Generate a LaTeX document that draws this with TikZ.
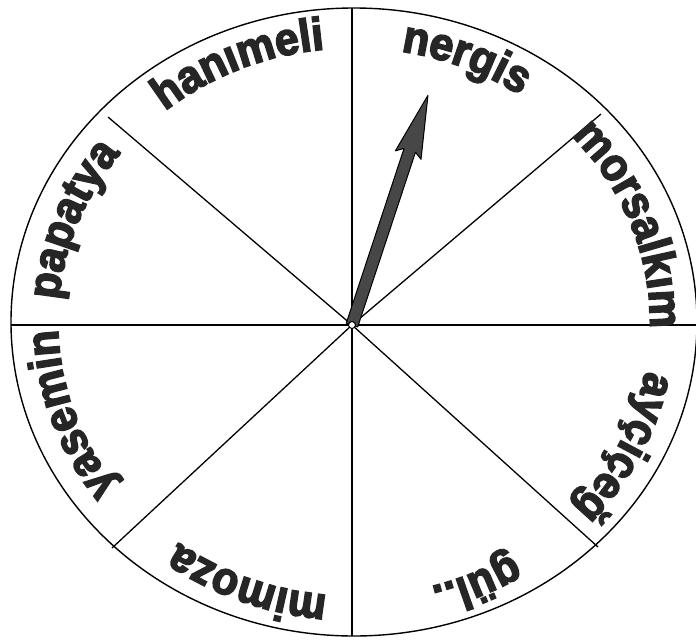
\documentclass[tikz,border=0pt]{standalone}
\usepackage{fontspec}
\newfontfamily\lbl{Liberation Sans Bold}[FakeBold=3.5, FakeStretch=0.93]
\usetikzlibrary{decorations.text}
\newcommand\lblfont{\lbl\fontsize{46}{50}\selectfont}
\tikzset{
  rim/.style={line width=1.4pt},
  spoke/.style={line width=1.3pt},
  lbltext/.style={decorate, decoration={text along path, text align=center, text color=black!85, text={|\lblfont|#1}}},
  pointer/.style={fill=black!72, draw=black, line width=1pt, line join=round}
}
\begin{document}
\begin{tikzpicture}[x=1pt,y=1pt]
\useasboundingbox (-352,-316) rectangle (344,325);
\coordinate (O) at (0,0);
\coordinate (E) at (2,3);
% rim
\draw[rim] (E) ellipse[x radius=343pt, y radius=314pt];
% spokes
\coordinate (W) at (-341,0);
\coordinate (R) at (345,0);
\coordinate (N) at (0,317);
\coordinate (S) at (0,-311);
\coordinate (NW) at (-244,208);
\coordinate (NE) at (249,211);
\coordinate (SW) at (-240,-223);
\coordinate (SE) at (246,-222);
\draw[spoke] (W) -- (R);
\draw[spoke] (N) -- (S);
\draw[spoke] (O) -- (NW);
\draw[spoke] (O) -- (NE);
\draw[spoke] (O) -- (SW);
\draw[spoke] (O) -- (SE);
% labels
\path[lbltext=nergis] (E) ++(99:296pt and 274pt) arc[start angle=99, end angle=37, x radius=296pt, y radius=274pt];
\path[lbltext=morsalkım] (E) ++(54:296pt and 274pt) arc[start angle=54, end angle=-13, x radius=296pt, y radius=274pt];
\path[lbltext=ayçiçeğ] (E) ++(6:296pt and 274pt) arc[start angle=6, end angle=-58, x radius=296pt, y radius=274pt];
\path[lbltext=gül..] (E) ++(-36:296pt and 274pt) arc[start angle=-36, end angle=-96, x radius=296pt, y radius=274pt];
\path[lbltext=mimoza] (E) ++(-79:296pt and 274pt) arc[start angle=-79, end angle=-143, x radius=296pt, y radius=274pt];
\path[lbltext=yasemin] (E) ++(-130:296pt and 274pt) arc[start angle=-130, end angle=-192, x radius=296pt, y radius=274pt];
\path[lbltext=papatya] (E) ++(190:296pt and 274pt) arc[start angle=190, end angle=128, x radius=296pt, y radius=274pt];
\path[lbltext=hanımeli] (E) ++(146:296pt and 274pt) arc[start angle=146, end angle=80, x radius=296pt, y radius=274pt];
% pointer
\filldraw[pointer, rotate=71.7] (0,-6) -- (184,-6) -- (179,-13.5) -- (242,0) -- (179,13.5) -- (184,6) -- (0,6) -- cycle;
\draw[line width=1pt, fill=white] (O) circle[radius=3.5pt];
\end{tikzpicture}
\end{document}
